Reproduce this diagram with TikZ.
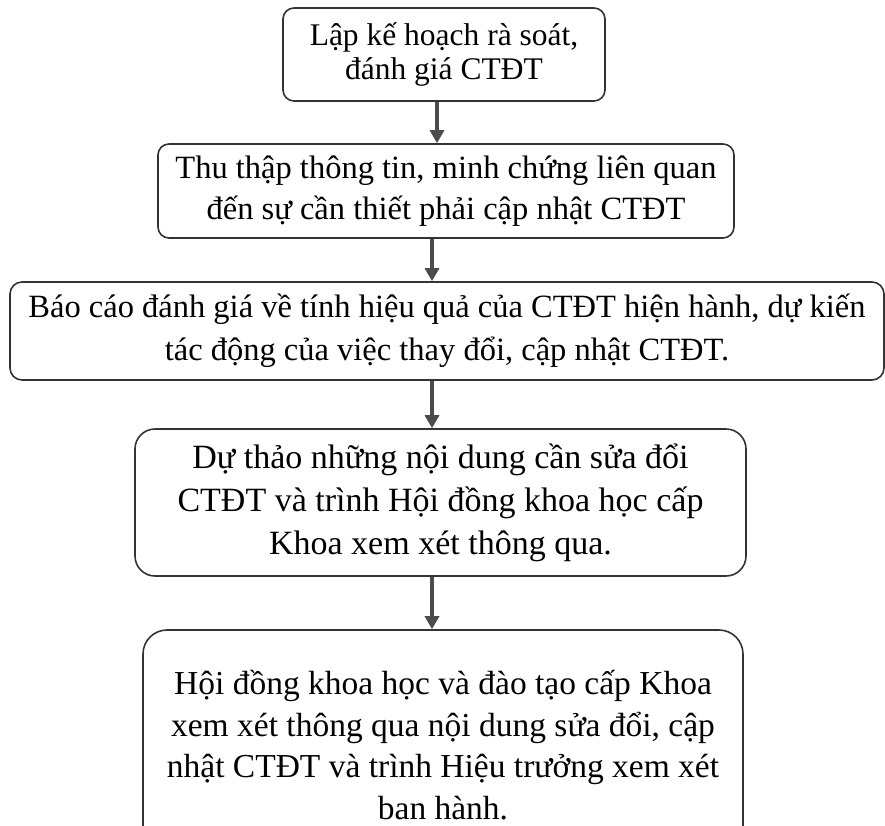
\documentclass[tikz,border=0pt]{standalone}
\usepackage{fontspec}
\setmainfont{Liberation Serif}
\usetikzlibrary{arrows.meta}
\begin{document}
\begin{tikzpicture}[x=1pt,y=-1pt,
  stepbox/.style={draw=black!80, line width=1.6pt, align=center, inner sep=0pt,
    font=\fontsize{33}{42}\selectfont, text=black},
  arr/.style={draw=black!70, line width=3.4pt, -{Triangle[length=13pt,width=14pt]}}]
\useasboundingbox (0,0) rectangle (885,825);
\clip (0,0) rectangle (885,825);
\node[stepbox, rounded corners=11pt, minimum width=322pt, minimum height=93pt,
  font=\fontsize{31.5}{34}\selectfont] (b1) at (444,54.5)
  {Lập kế hoạch rà soát,\\ đánh giá CTĐT};
\node[stepbox, rounded corners=11pt, minimum width=576pt, minimum height=94pt,
  font=\fontsize{32.5}{41}\selectfont] (b2) at (446,191)
  {Thu thập thông tin, minh chứng liên quan\\ đến sự cần thiết phải cập nhật CTĐT};
\node[stepbox, rounded corners=12pt, minimum width=874pt, minimum height=98pt,
  font=\fontsize{32.5}{43}\selectfont] (b3) at (447,331)
  {Báo cáo đánh giá về tính hiệu quả của CTĐT hiện hành, dự kiến\\ tác động của việc thay đổi, cập nhật CTĐT.};
\node[stepbox, rounded corners=20pt, minimum width=611pt, minimum height=147pt,
  font=\fontsize{34}{43}\selectfont] (b4) at (440.5,502.5)
  {Dự thảo những nội dung cần sửa đổi\\ CTĐT và trình Hội đồng khoa học cấp\\ Khoa xem xét thông qua.};
\node[stepbox, rounded corners=24pt, minimum width=600pt, minimum height=230pt,
  font=\fontsize{33.5}{41.7}\selectfont] (b5) at (443,745)
  {Hội đồng khoa học và đào tạo cấp Khoa\\ xem xét thông qua nội dung sửa đổi, cập\\ nhật CTĐT và trình Hiệu trưởng xem xét\\ ban hành.};
\draw[arr] (b1.south -| 437,0) -- (b2.north -| 437,0);
\draw[arr] (b2.south -| 432,0) -- (b3.north -| 432,0);
\draw[arr] (b3.south -| 432,0) -- (b4.north -| 432,0);
\draw[arr] (b4.south -| 432,0) -- (b5.north -| 432,0);
\end{tikzpicture}
\end{document}
